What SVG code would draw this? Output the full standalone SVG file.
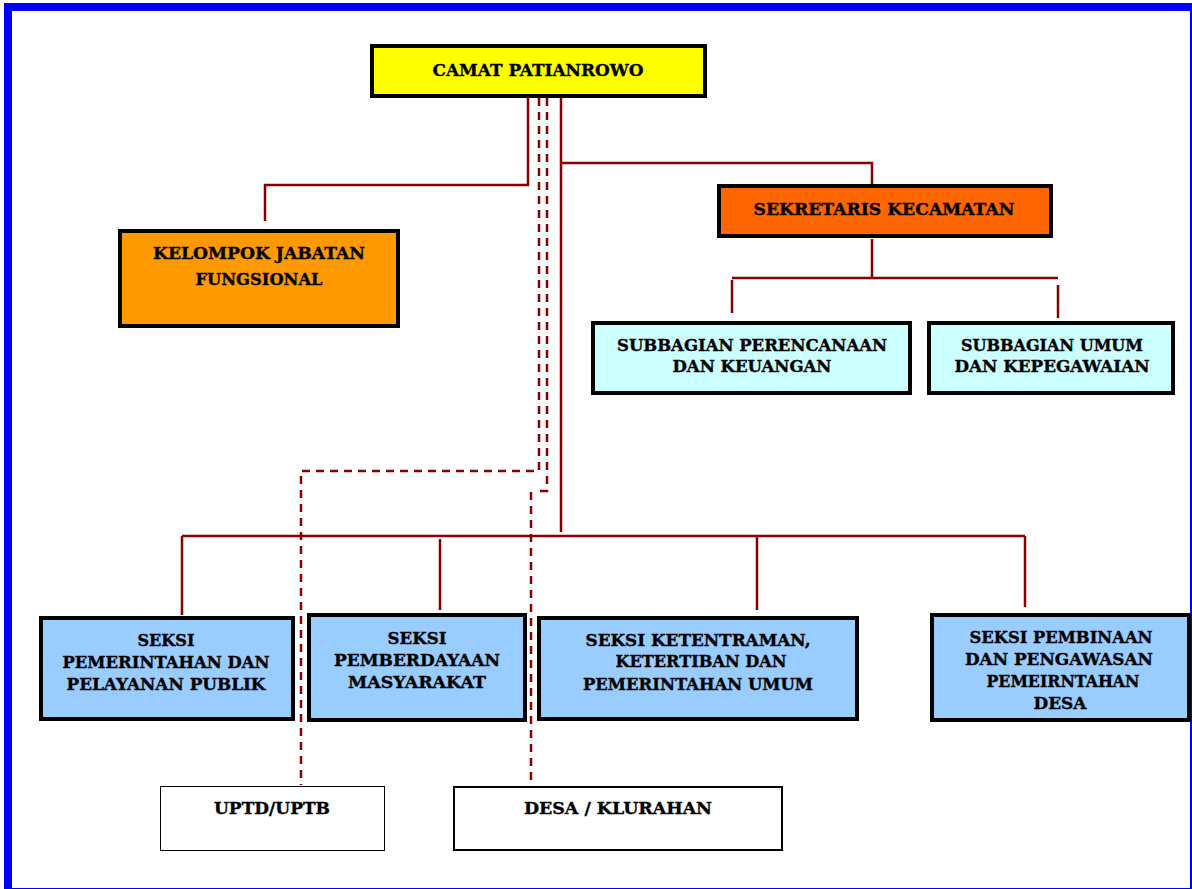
<svg xmlns="http://www.w3.org/2000/svg" width="1192" height="889" viewBox="0 0 1192 889">
<style>
.t{font-family:"DejaVu Serif","Liberation Serif",serif;font-weight:bold;fill:#000;stroke:#000;stroke-width:0.35;text-anchor:middle}
.b{stroke:#000;stroke-width:4}
.s{fill:none;stroke:#870000;stroke-width:2.5}
.d{fill:none;stroke:#870000;stroke-width:2.5;stroke-dasharray:8 6}
</style>
<rect x="0" y="0" width="1192" height="889" fill="#fff"/>
<rect x="8" y="7" width="1186" height="885" fill="none" stroke="#0000ff" stroke-width="8"/>
<g id="connectors">
<path class="s" d="M528,98 V185 H265 V221"/>
<path class="s" d="M561,98 V532"/>
<path class="s" d="M561,163 H872 V185"/>
<path class="s" d="M872,239 V278"/>
<path class="s" d="M732,278 H1058"/>
<path class="s" d="M732,280 V313"/>
<path class="s" d="M1058,285 V318"/>
<path class="s" d="M182,536 H1025"/>
<path class="s" d="M182,536 V615"/>
<path class="s" d="M440,539 V610"/>
<path class="s" d="M757,537 V610"/>
<path class="s" d="M1025,536 V607"/>
<path class="d" d="M539,98 V471 H301 V785"/>
<path class="d" d="M547,98 V491 H538"/>
<path class="d" d="M531,492 V785"/>
</g>
<g id="camat">
<rect class="b" x="372" y="46" width="333" height="50" fill="#ffff00"/>
<text class="t" x="538" y="76" font-size="17.5" textLength="211" lengthAdjust="spacingAndGlyphs">CAMAT PATIANROWO</text>
</g>
<g id="kelompok">
<rect class="b" x="120" y="231" width="278" height="95" fill="#ff9900"/>
<text class="t" x="259" y="259" font-size="17.5" textLength="212" lengthAdjust="spacingAndGlyphs">KELOMPOK JABATAN</text>
<text class="t" x="259" y="285" font-size="17.5" textLength="127" lengthAdjust="spacingAndGlyphs">FUNGSIONAL</text>
</g>
<g id="sekretaris">
<rect class="b" x="719" y="186" width="332" height="50" fill="#ff6600"/>
<text class="t" x="884" y="215" font-size="16.5" textLength="261" lengthAdjust="spacingAndGlyphs">SEKRETARIS KECAMATAN</text>
</g>
<g id="subbagian-perencanaan">
<rect class="b" x="593" y="323" width="317" height="70" fill="#ccffff"/>
<text class="t" x="752" y="351" font-size="16" textLength="270" lengthAdjust="spacingAndGlyphs">SUBBAGIAN PERENCANAAN</text>
<text class="t" x="752" y="372" font-size="16" textLength="159" lengthAdjust="spacingAndGlyphs">DAN KEUANGAN</text>
</g>
<g id="subbagian-umum">
<rect class="b" x="929" y="323" width="244" height="70" fill="#ccffff"/>
<text class="t" x="1052" y="351" font-size="16" textLength="182" lengthAdjust="spacingAndGlyphs">SUBBAGIAN UMUM</text>
<text class="t" x="1052" y="372" font-size="16" textLength="195" lengthAdjust="spacingAndGlyphs">DAN KEPEGAWAIAN</text>
</g>
<g id="seksi-pemerintahan">
<rect class="b" x="41" y="618" width="252" height="101" fill="#99ccff"/>
<text class="t" x="166" y="646" font-size="16" textLength="57" lengthAdjust="spacingAndGlyphs">SEKSI</text>
<text class="t" x="166" y="668" font-size="16" textLength="207" lengthAdjust="spacingAndGlyphs">PEMERINTAHAN DAN</text>
<text class="t" x="166" y="690" font-size="16" textLength="199" lengthAdjust="spacingAndGlyphs">PELAYANAN PUBLIK</text>
</g>
<g id="seksi-pemberdayaan">
<rect class="b" x="309" y="615" width="216" height="105" fill="#99ccff"/>
<text class="t" x="417" y="644" font-size="16" textLength="59" lengthAdjust="spacingAndGlyphs">SEKSI</text>
<text class="t" x="417" y="666" font-size="16" textLength="166" lengthAdjust="spacingAndGlyphs">PEMBERDAYAAN</text>
<text class="t" x="417" y="688" font-size="16" textLength="138" lengthAdjust="spacingAndGlyphs">MASYARAKAT</text>
</g>
<g id="seksi-ketentraman">
<rect class="b" x="539" y="618" width="318" height="101" fill="#99ccff"/>
<text class="t" x="698" y="646" font-size="16" textLength="225" lengthAdjust="spacingAndGlyphs">SEKSI KETENTRAMAN,</text>
<text class="t" x="701" y="667" font-size="16" textLength="171" lengthAdjust="spacingAndGlyphs">KETERTIBAN DAN</text>
<text class="t" x="698" y="690" font-size="16" textLength="230" lengthAdjust="spacingAndGlyphs">PEMERINTAHAN UMUM</text>
</g>
<g id="seksi-pembinaan">
<rect class="b" x="932" y="615" width="257" height="105" fill="#99ccff"/>
<text class="t" x="1061" y="643" font-size="16" textLength="183" lengthAdjust="spacingAndGlyphs">SEKSI PEMBINAAN</text>
<text class="t" x="1059" y="665" font-size="16" textLength="188" lengthAdjust="spacingAndGlyphs">DAN PENGAWASAN</text>
<text class="t" x="1063" y="687" font-size="16" textLength="153" lengthAdjust="spacingAndGlyphs">PEMEIRNTAHAN</text>
<text class="t" x="1060" y="709" font-size="16" textLength="53" lengthAdjust="spacingAndGlyphs">DESA</text>
</g>
<g id="uptd">
<rect x="160.5" y="786.5" width="224" height="64" fill="#fff" stroke="#000" stroke-width="1"/>
<text class="t" x="272" y="814" font-size="16" textLength="116" lengthAdjust="spacingAndGlyphs">UPTD/UPTB</text>
</g>
<g id="desa">
<rect x="454" y="787" width="328" height="63" fill="#fff" stroke="#000" stroke-width="2"/>
<text class="t" x="618" y="814" font-size="16" textLength="188" lengthAdjust="spacingAndGlyphs">DESA / KLURAHAN</text>
</g>
</svg>
